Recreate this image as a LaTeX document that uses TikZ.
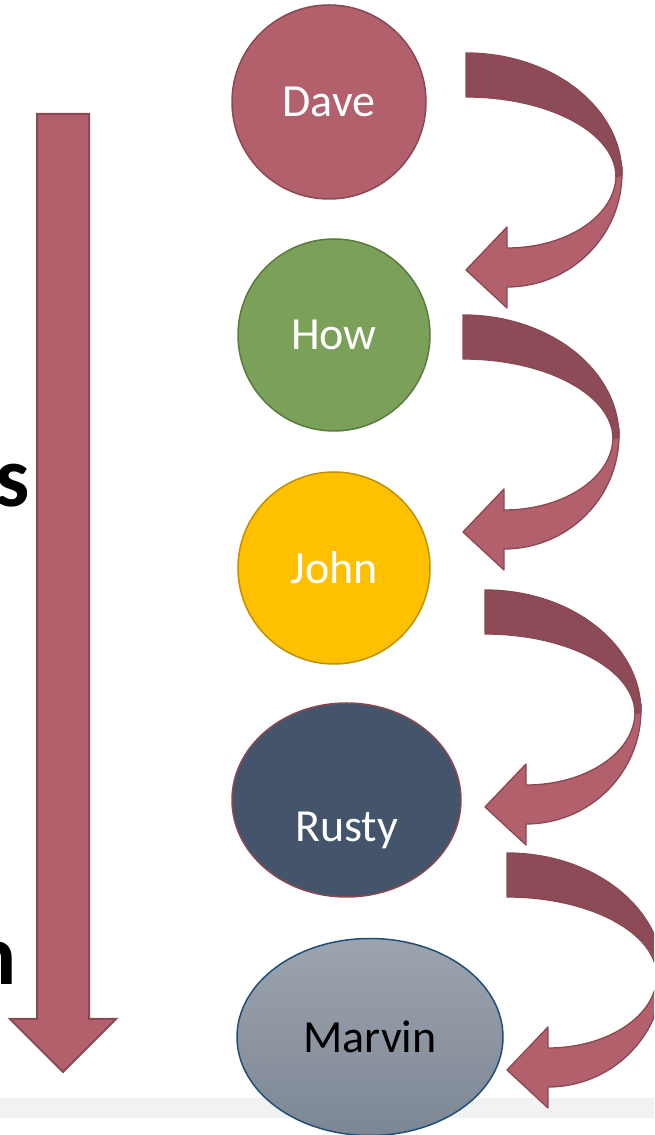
\documentclass[tikz,border=0pt]{standalone}
\usepackage{fontspec}
\setmainfont{Carlito}
\usetikzlibrary{shapes.geometric}
\definecolor{rose}{HTML}{B3606D}
\definecolor{rosedark}{HTML}{8C4B56}
\definecolor{roseline}{HTML}{8A4852}
\definecolor{leaf}{HTML}{7AA05A}
\definecolor{leafline}{HTML}{5B7B3D}
\definecolor{gold}{HTML}{FFC000}
\definecolor{goldline}{HTML}{C09000}
\definecolor{slate}{HTML}{44546A}
\definecolor{greytop}{HTML}{9CA4AE}
\definecolor{greybot}{HTML}{7D8794}
\definecolor{navyline}{HTML}{1F4E79}
\definecolor{band}{HTML}{F2F2F2}
\tikzset{
  person/.style={line width=1.5pt, inner sep=0pt, text=white,
    font=\fontsize{46}{54}\selectfont},
  arrowlight/.style={fill=rose, draw=roseline, line width=1.3pt, line join=round},
  arrowdark/.style={fill=rosedark, draw=roseline, line width=1.3pt, line join=round},
  bigletter/.style={font=\fontsize{86}{100}\selectfont\bfseries, inner sep=0pt, anchor=base east},
}
\newcommand{\curvedturn}[2]{%
  \begin{scope}[shift={(#1,#2)}]
    \path[arrowlight] (622,968) -- (622,962) arc[start angle=0,end angle=-90,x radius=115,y radius=114]
      -- (507,827) -- (466,865) -- (507,908) -- (507,887)
      arc[start angle=-90,end angle=0,x radius=109,y radius=73] -- cycle;
    \path[arrowdark] (466,1082) arc[start angle=90,end angle=0,x radius=156,y radius=122]
      -- (616,958) arc[start angle=0,end angle=90,x radius=150,y radius=80] -- cycle;
  \end{scope}}
\begin{document}
\begin{tikzpicture}[x=1pt,y=1pt]
  \useasboundingbox (0,0) rectangle (654,1135);
  \clip (0,0) rectangle (654,1135);
  % grey band
  \fill[band] (0,17) rectangle (654,37);
  % partial left texts
  \node[bigletter] (sletter) at (30,628) {s};
  \node[bigletter] (nletter) at (17,150) {n};
  % big down arrow
  \path[fill=rose, draw=roseline, line width=2pt, line join=miter]
    (37,1021) -- (89,1021) -- (89,116) -- (116,116) -- (63,63) -- (10,116) -- (37,116) -- cycle;
  % people
  \node[person, circle, minimum size=194pt, fill=rose, draw=roseline] (dave) at (329,1033) {Dave};
  \node[person, circle, minimum size=192pt, fill=leaf, draw=leafline] (how) at (334,800) {How};
  \node[person, circle, minimum size=192pt, fill=gold, draw=goldline] (john) at (334,567) {John};
  \node[person, ellipse, minimum width=229pt, minimum height=194pt, fill=slate, draw=roseline] (rusty) at (346.5,335) {};
  \node[person] (rustylabel) at ([yshift=-30pt]rusty.center) {Rusty};
  \node[person, ellipse, minimum width=266pt, minimum height=197pt, top color=greytop, bottom color=greybot, draw=navyline, text=black] (marvin) at (370,98) {Marvin};
  % curved arrows
  \curvedturn{0}{0}
  \curvedturn{-3}{-262}
  \curvedturn{19}{-537}
  \curvedturn{41}{-800}
\end{tikzpicture}
\end{document}
